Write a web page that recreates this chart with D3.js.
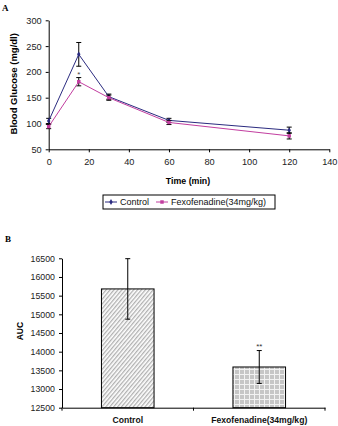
<!DOCTYPE html>
<html>
<head>
<meta charset="utf-8">
<script src="https://cdn.jsdelivr.net/npm/d3@7"></script>
<style>
  body { margin: 0; background: #fff; }
  svg { display: block; }
  text { font-family: "Liberation Sans", Arial, sans-serif; }
</style>
</head>
<body>
<div id="chart"></div>
<script>
// Panel A: blood glucose time course
const times = [0, 15, 30, 60, 120];
const controlMean = [105, 234, 152, 106, 87];
const controlErr = [5, 23, 5, 4, 6];
const fexoMean = [94, 181, 150, 102, 76];
const fexoErr = [4, 8, 5, 4, 6];
const xTicks = [0, 20, 40, 60, 80, 100, 120, 140];
const yTicksA = [50, 100, 150, 200, 250, 300];

// Panel B: area under the curve
const groups = ["Control", "Fexofenadine(34mg/kg)"];
const aucMean = [15680, 13590];
const aucErr = [810, 440];
const aucMarks = ["", "**"];
const yTicksB = [12500, 13000, 13500, 14000, 14500, 15000, 15500, 16000, 16500];

const W = 338, H = 426;
const svg = d3.select("#chart").append("svg")
  .attr("width", W)
  .attr("height", H);

const defs = svg.append("defs");

// diagonal hatch for the control bar
const hatch = defs.append("pattern")
  .attr("id", "hatch")
  .attr("patternUnits", "userSpaceOnUse")
  .attr("width", 3).attr("height", 3)
  .attr("patternTransform", "rotate(40)");
hatch.append("rect").attr("width", 3).attr("height", 3).attr("fill", "#fff");
hatch.append("rect").attr("width", 1.3).attr("height", 3).attr("fill", "#b0b0b0");

// grid-like fill for the treated bar
const grid = defs.append("pattern")
  .attr("id", "grid")
  .attr("patternUnits", "userSpaceOnUse")
  .attr("width", 5).attr("height", 5);
grid.append("rect").attr("width", 5).attr("height", 5).attr("fill", "#f2f2f2");
grid.append("rect").attr("width", 4).attr("height", 4).attr("fill", "#c6c6c6");

// ---------- Panel A ----------
const xA = d3.scaleLinear().domain([0, 140]).range([48.7, 329.3]);
const yA = d3.scaleLinear().domain([50, 300]).range([149.3, 20.3]);

svg.append("text")
  .attr("x", 2).attr("y", 11)
  .style("font-family", "'Liberation Serif', serif")
  .style("font-weight", "bold")
  .style("font-size", "9px")
  .text("A");

const axA_y = svg.append("g")
  .attr("transform", `translate(${xA(0)},0)`)
  .call(d3.axisLeft(yA).tickValues(yTicksA).tickSize(3).tickSizeOuter(0));
const axA_x = svg.append("g")
  .attr("transform", `translate(0,${yA(50)})`)
  .call(d3.axisBottom(xA).tickValues(xTicks).tickSize(3).tickSizeOuter(0));

[axA_y, axA_x].forEach(g => {
  g.select(".domain").attr("stroke", "#000");
  g.selectAll(".tick line").attr("stroke", "#000");
  g.selectAll(".tick text")
    .style("font-size", "9.2px")
    .attr("fill", "#222");
});
axA_y.selectAll(".tick text").attr("x", -7);
axA_x.selectAll(".tick text").attr("y", 9);

svg.append("text")
  .attr("x", 188).attr("y", 184)
  .attr("text-anchor", "middle")
  .style("font-size", "8.8px")
  .style("font-weight", "bold")
  .text("Time (min)");

svg.append("text")
  .attr("transform", `translate(17,${yA(177)}) rotate(-90)`)
  .attr("text-anchor", "middle")
  .style("font-size", "9.5px")
  .style("font-weight", "bold")
  .text("Blood Glucose (mg/dl)");

const seriesA = [
  {name: "Control", mean: controlMean, err: controlErr, color: "#2b2b80", marker: "diamond"},
  {name: "Fexofenadine(34mg/kg)", mean: fexoMean, err: fexoErr, color: "#c23ea0", marker: "square"}
];

const line = d3.line()
  .x(d => xA(d.t))
  .y(d => yA(d.v));

seriesA.forEach(s => {
  const pts = times.map((t, i) => ({t, v: s.mean[i], e: s.err[i]}));

  // error bars
  const eb = svg.append("g");
  pts.forEach(p => {
    const cx = xA(p.t);
    eb.append("line")
      .attr("x1", cx).attr("x2", cx)
      .attr("y1", yA(p.v + p.e)).attr("y2", yA(p.v - p.e))
      .attr("stroke", "#000").attr("stroke-width", 1);
    [p.v + p.e, p.v - p.e].forEach(v => {
      eb.append("line")
        .attr("x1", cx - 2.5).attr("x2", cx + 2.5)
        .attr("y1", yA(v)).attr("y2", yA(v))
        .attr("stroke", "#000").attr("stroke-width", 1);
    });
  });

  svg.append("path")
    .datum(pts)
    .attr("fill", "none")
    .attr("stroke", s.color)
    .attr("stroke-width", 1)
    .attr("d", line);

  const sym = s.marker === "diamond"
    ? d3.symbol(d3.symbolDiamond, 10)
    : d3.symbol(d3.symbolSquare, 12);
  svg.append("g").selectAll("path")
    .data(pts)
    .join("path")
    .attr("transform", d => `translate(${xA(d.t)},${yA(d.v)})`)
    .attr("d", sym)
    .attr("fill", s.color);
});

// significance mark at 15 min
svg.append("text")
  .attr("x", xA(15)).attr("y", yA(fexoMean[1] + fexoErr[1]) - 1)
  .attr("text-anchor", "middle")
  .style("font-size", "8px")
  .attr("fill", "#444")
  .text("*");

// legend
const lg = svg.append("g");
lg.append("rect")
  .attr("x", 103).attr("y", 195)
  .attr("width", 172).attr("height", 14)
  .attr("fill", "#fff").attr("stroke", "#000").attr("stroke-width", 1);
const legendX = [105, 156];
seriesA.forEach((s, i) => {
  const lx = legendX[i];
  lg.append("line")
    .attr("x1", lx).attr("x2", lx + 12)
    .attr("y1", 202).attr("y2", 202)
    .attr("stroke", s.color);
  const sym = s.marker === "diamond"
    ? d3.symbol(d3.symbolDiamond, 10)
    : d3.symbol(d3.symbolSquare, 12);
  lg.append("path")
    .attr("transform", `translate(${lx + 6},202)`)
    .attr("d", sym)
    .attr("fill", s.color);
  lg.append("text")
    .attr("x", lx + 15).attr("y", 205.2)
    .style("font-size", "9px")
    .attr("fill", "#111")
    .text(s.name);
});

// ---------- Panel B ----------
const xB = d3.scaleBand().domain(groups).range([62, 325]);
const yB = d3.scaleLinear().domain([12500, 16500]).range([407.7, 258.3]);

svg.append("text")
  .attr("x", 5).attr("y", 242)
  .style("font-family", "'Liberation Serif', serif")
  .style("font-weight", "bold")
  .style("font-size", "9px")
  .text("B");

const barW = xB.bandwidth() * 0.4;
svg.append("g").selectAll("rect")
  .data(groups)
  .join("rect")
  .attr("x", d => xB(d) + (xB.bandwidth() - barW) / 2)
  .attr("y", (d, i) => yB(aucMean[i]))
  .attr("width", barW)
  .attr("height", (d, i) => yB(12500) - yB(aucMean[i]))
  .attr("fill", (d, i) => i === 0 ? "url(#hatch)" : "url(#grid)")
  .attr("stroke", "#000")
  .attr("stroke-width", 1);

// error bars on bars
groups.forEach((g, i) => {
  const cx = xB(g) + xB.bandwidth() / 2;
  svg.append("line")
    .attr("x1", cx).attr("x2", cx)
    .attr("y1", yB(aucMean[i] + aucErr[i])).attr("y2", yB(aucMean[i] - aucErr[i]))
    .attr("stroke", "#000");
  [aucMean[i] + aucErr[i], aucMean[i] - aucErr[i]].forEach(v => {
    svg.append("line")
      .attr("x1", cx - 2.5).attr("x2", cx + 2.5)
      .attr("y1", yB(v)).attr("y2", yB(v))
      .attr("stroke", "#000");
  });
  if (aucMarks[i]) {
    svg.append("text")
      .attr("x", cx).attr("y", yB(aucMean[i] + aucErr[i]) - 2)
      .attr("text-anchor", "middle")
      .style("font-size", "8px")
      .attr("fill", "#333")
      .text(aucMarks[i]);
  }
});

const axB_y = svg.append("g")
  .attr("transform", "translate(62,0)")
  .call(d3.axisLeft(yB).tickValues(yTicksB).tickSize(3).tickSizeOuter(0).tickFormat(d3.format("d")));
const axB_x = svg.append("g")
  .attr("transform", `translate(0,${yB(12500)})`)
  .call(d3.axisBottom(xB).tickSize(0).tickSizeOuter(0));

// category boundary ticks
[62, 62 + xB.step(), 325].forEach(x => {
  svg.append("line")
    .attr("x1", x).attr("x2", x)
    .attr("y1", yB(12500)).attr("y2", yB(12500) + 3)
    .attr("stroke", "#000");
});

axB_y.select(".domain").attr("stroke", "#000");
axB_y.selectAll(".tick line").attr("stroke", "#000");
axB_y.selectAll(".tick text")
  .attr("x", -7)
  .style("font-size", "8.8px")
  .attr("fill", "#222");
axB_x.select(".domain").attr("stroke", "#000");
axB_x.selectAll(".tick text")
  .attr("y", 9)
  .style("font-size", "8.6px")
  .style("font-weight", "bold")
  .attr("fill", "#111");

svg.append("text")
  .attr("transform", `translate(23,${yB(14550)}) rotate(-90)`)
  .attr("text-anchor", "middle")
  .style("font-size", "8.5px")
  .style("font-weight", "bold")
  .text("AUC");
</script>
</body>
</html>
